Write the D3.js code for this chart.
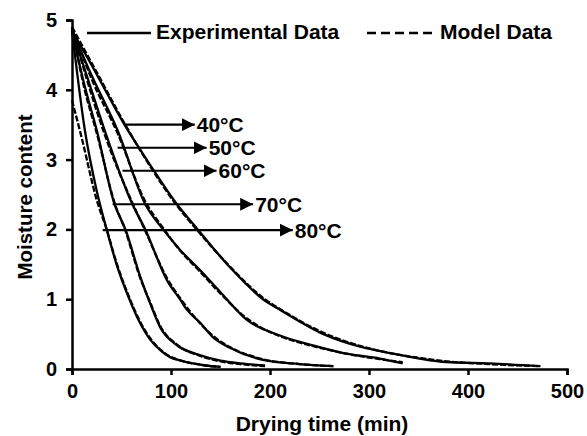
<!DOCTYPE html>
<html>
<head>
<meta charset="utf-8">
<script src="https://cdn.jsdelivr.net/npm/d3@7"></script>
<style>
  html, body { margin: 0; padding: 0; background: #fff; }
  svg { display: block; }
  text { font-family: "Liberation Sans", Arial, sans-serif; font-weight: bold; fill: #000; }
</style>
</head>
<body>
<svg id="chart" width="587" height="436"></svg>
<script>
// ---------- data ----------
const temperatures = ["40°C", "50°C", "60°C", "70°C", "80°C"];

// experimental drying curves: [time (min), moisture content]
const exp40 = [[0,4.85],[20,4.35],[53,3.5],[80,2.9],[106,2.36],[127,2.0],[160,1.45],[193,1.0],[210,0.85],[254,0.5],[291,0.32],[324,0.22],[351,0.15],[378,0.1],[422,0.08],[473,0.04]];
const exp50 = [[0,4.85],[20,4.2],[46,3.42],[74,2.36],[92,2.0],[109,1.71],[129,1.42],[150,1.1],[177,0.7],[210,0.48],[243,0.34],[277,0.22],[311,0.15],[334,0.08]];
const exp60 = [[0,4.85],[15,4.2],[33,3.42],[61,2.36],[74,2.0],[96,1.27],[109,1.0],[116,0.85],[129,0.67],[142,0.46],[160,0.3],[193,0.13],[230,0.07],[264,0.04]];
const exp70 = [[0,4.85],[12,4.1],[25,3.42],[43,2.36],[54,2.0],[69,1.32],[80,0.9],[89,0.6],[106,0.34],[129,0.2],[150,0.12],[170,0.08],[195,0.05]];
const exp80 = [[0,4.85],[13,3.42],[25,2.55],[35,2.0],[45,1.5],[58,1.0],[68,0.68],[79,0.42],[90,0.26],[99,0.17],[110,0.12],[122,0.08],[135,0.05],[150,0.03]];

// model curves: [time (min), moisture content]
const mod40 = [[0,4.9],[25,4.25],[53,3.52],[80,2.88],[106,2.34],[127,1.98],[160,1.46],[193,1.02],[210,0.86],[254,0.52],[291,0.33],[324,0.22],[351,0.16],[378,0.11],[422,0.07],[473,0.04]];
const mod50 = [[0,4.9],[20,4.15],[46,3.38],[74,2.4],[92,2.02],[109,1.7],[129,1.4],[150,1.08],[177,0.72],[210,0.47],[243,0.33],[277,0.22],[311,0.14],[334,0.1]];
const mod60 = [[0,4.9],[15,4.15],[33,3.36],[61,2.38],[74,1.98],[96,1.3],[109,1.02],[129,0.66],[142,0.48],[160,0.31],[193,0.14],[230,0.07],[264,0.04]];
const mod70 = [[0,4.9],[12,4.05],[25,3.38],[43,2.38],[54,1.98],[69,1.3],[80,0.92],[89,0.62],[106,0.35],[129,0.19],[150,0.11],[170,0.07],[195,0.04]];
const mod80 = [[0,3.85],[10,3.3],[25,2.42],[35,2.0],[45,1.52],[58,1.02],[68,0.7],[79,0.44],[90,0.27],[99,0.18],[110,0.12],[122,0.08],[135,0.05],[150,0.03]];

const experimental = [exp40, exp50, exp60, exp70, exp80];
const model = [mod40, mod50, mod60, mod70, mod80];

// annotation arrows (data coordinates)
const arrowY     = [3.50, 3.17, 2.84, 2.36, 1.99];
const arrowStart = [53, 46, 51, 41, 31];
const arrowEnd   = [124, 136, 146, 183, 223];

const xTicks = [0, 100, 200, 300, 400, 500];
const yTicks = [0, 1, 2, 3, 4, 5];
const legendLabels = ["Experimental Data", "Model Data"];
const xTitle = "Drying time (min)";
const yTitle = "Moisture content";

// ---------- drawing ----------
const svg = d3.select("#chart");
const x = d3.scaleLinear().domain([0, 500]).range([72, 567]);
const y = d3.scaleLinear().domain([0, 5]).range([369, 20]);

svg.append("defs").append("marker")
  .attr("id", "head").attr("viewBox", "0 0 10 10")
  .attr("refX", 10).attr("refY", 5)
  .attr("markerWidth", 13).attr("markerHeight", 13)
  .attr("markerUnits", "userSpaceOnUse").attr("orient", "auto")
  .append("path").attr("d", "M0,0L10,5L0,10Z").attr("fill", "#000");

const line = d3.line().x(d => x(d[0])).y(d => y(d[1])).curve(d3.curveMonotoneX);

svg.append("g").selectAll("path").data(experimental).join("path")
  .attr("d", line).attr("fill", "none").attr("stroke", "#000").attr("stroke-width", 2.3);

svg.append("g").selectAll("path").data(model).join("path")
  .attr("d", line).attr("fill", "none").attr("stroke", "#000").attr("stroke-width", 2.3)
  .attr("stroke-dasharray", "6,2");

// axes
const xAxis = svg.append("g").attr("transform", "translate(0,369)")
  .call(d3.axisBottom(x).tickValues(xTicks).tickFormat(d3.format("d")).tickSize(6).tickPadding(9));
const yAxis = svg.append("g").attr("transform", "translate(72,0)")
  .call(d3.axisLeft(y).tickValues(yTicks).tickFormat(d3.format("d")).tickSize(6).tickPadding(9));
[xAxis, yAxis].forEach(g => {
  g.select(".domain").attr("stroke", "#000").attr("stroke-width", 2.5);
  g.selectAll(".tick line").attr("stroke", "#000").attr("stroke-width", 2.5);
  g.selectAll(".tick text").style("font-family", '"Liberation Sans", Arial, sans-serif')
    .style("font-weight", "bold").style("font-size", "20px").attr("fill", "#000");
});

// axis titles
svg.append("text").attr("x", 322).attr("y", 431).attr("text-anchor", "middle")
  .style("font-size", "21px").text(xTitle);
svg.append("text").attr("transform", "translate(32,197) rotate(-90)").attr("text-anchor", "middle")
  .style("font-size", "20.5px").text(yTitle);

// arrows and labels
const arrows = svg.append("g");
temperatures.forEach((t, i) => {
  arrows.append("line")
    .attr("x1", x(arrowStart[i])).attr("x2", x(arrowEnd[i]))
    .attr("y1", y(arrowY[i])).attr("y2", y(arrowY[i]))
    .attr("stroke", "#000").attr("stroke-width", 2.2).attr("marker-end", "url(#head)");
  arrows.append("text").attr("x", x(arrowEnd[i]) + 2).attr("y", y(arrowY[i]) + 7.5)
    .style("font-size", "21px").text(t);
});

// legend
const leg = svg.append("g");
leg.append("line").attr("x1", 87).attr("x2", 151).attr("y1", 33).attr("y2", 33)
  .attr("stroke", "#000").attr("stroke-width", 2.3);
leg.append("text").attr("x", 156).attr("y", 39).style("font-size", "21px").text(legendLabels[0]);
leg.append("line").attr("x1", 367).attr("x2", 432).attr("y1", 33).attr("y2", 33)
  .attr("stroke", "#000").attr("stroke-width", 2.3).attr("stroke-dasharray", "9,5");
leg.append("text").attr("x", 440).attr("y", 39).style("font-size", "21px").text(legendLabels[1]);
</script>
</body>
</html>
